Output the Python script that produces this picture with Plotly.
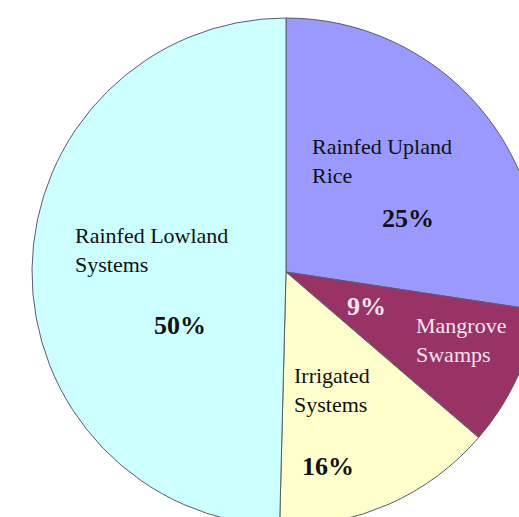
import plotly.graph_objects as go

categories = ["Rainfed Upland Rice", "Mangrove Swamps", "Irrigated Systems", "Rainfed Lowland Systems"]
values = [27.4, 8.9, 14.1, 49.6]
pct_labels = ["25%", "9%", "16%", "50%"]
name_labels = ["Rainfed Upland<br>Rice", "Mangrove<br>Swamps", "Irrigated<br>Systems", "Rainfed Lowland<br>Systems"]
colors = ["#9999FF", "#993366", "#FFFFCC", "#CCFFFF"]

W, H = 560, 540
# pie circle: centre (286, 272) px, radius 254 px
cx, cy, r = 286, 272, 254

fig = go.Figure(go.Pie(
    labels=categories, values=values, sort=False, direction="clockwise", rotation=0,
    marker=dict(colors=colors, line=dict(color="#5c5c6c", width=1)),
    textinfo="none", hoverinfo="label+percent", showlegend=False,
    domain=dict(x=[(cx - r) / W, (cx + r) / W], y=[(H - cy - r) / H, (H - cy + r) / H]),
))

serif = "Liberation Serif, Times New Roman, serif"
name_pos = [(310, 161, "#111111"), (414, 340, "#F3E4EE"), (292, 390, "#111111"), (73, 249.5, "#111111")]
pct_pos = [(408, 218.5, "#111111"), (366, 306.5, "#F3E4EE"), (327.5, 466.5, "#111111"), (180, 325.5, "#111111")]

for (x, y, c), t in zip(name_pos, name_labels):
    fig.add_annotation(x=x / W, y=1 - y / H, xref="paper", yref="paper", text=t, showarrow=False,
                       xanchor="left", yanchor="middle", align="left",
                       font=dict(family=serif, size=22, color=c))
for (x, y, c), t in zip(pct_pos, pct_labels):
    fig.add_annotation(x=x / W, y=1 - y / H, xref="paper", yref="paper", text="<b>" + t + "</b>",
                       showarrow=False, xanchor="center", yanchor="middle",
                       font=dict(family=serif, size=26, color=c))

fig.update_layout(width=W, height=H, margin=dict(l=0, r=0, t=0, b=0),
                  paper_bgcolor="white", plot_bgcolor="white")

fig.write_html("out.html", post_script="document.documentElement.style.overflow='hidden';document.body.style.overflow='hidden';document.body.style.margin='0';")
